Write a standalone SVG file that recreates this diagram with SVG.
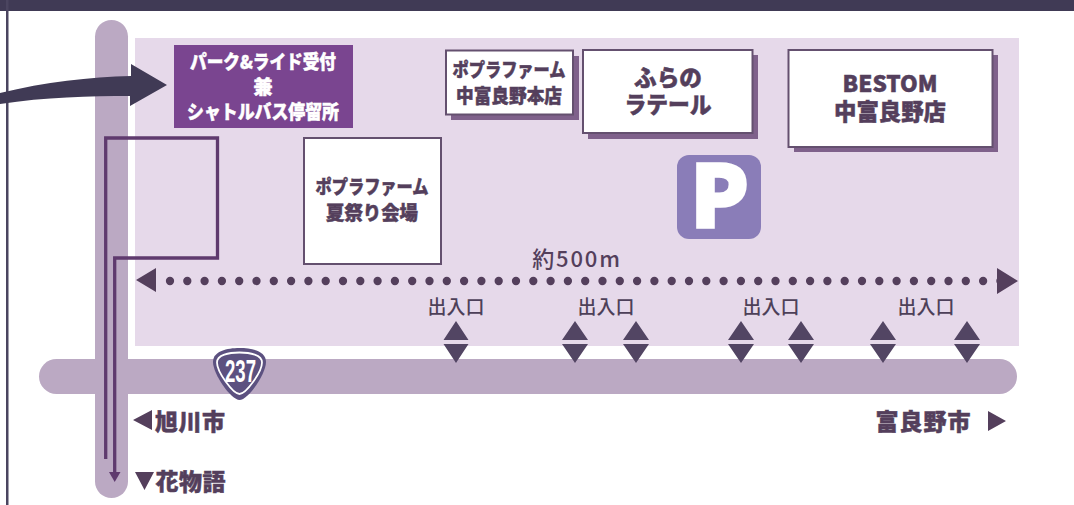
<svg xmlns="http://www.w3.org/2000/svg" width="1074" height="505" viewBox="0 0 1074 505">
<style>
text{font-family:"Noto Sans CJK JP","Liberation Sans",sans-serif;text-anchor:middle;fill:#543f5c;stroke:#543f5c;stroke-width:.5px;font-weight:900}
.box{fill:#fff;stroke:#64506f;stroke-width:2}
.shadow{fill:#7f618b}
.road{fill:#bba9c3}
.gate{fill:#524563}
.ent{font-size:19px;font-weight:500;fill:#4d4058;stroke-width:0}
.n1{font-size:19px;font-weight:800}
.n2{font-size:23px;font-weight:800}
.lab{font-size:23px}
.w{fill:#fff;stroke:#fff;font-size:19px}
</style>
<rect width="1074" height="505" fill="#fff"/>
<rect id="top-band" width="1074" height="11" fill="#403a55"/>
<rect id="left-border" x="6" y="0" width="2.500" height="505" fill="#4b4560"/>
<rect id="panel" x="135" y="38" width="884" height="308" fill="#e6d9ea"/>
<g id="roads">
<rect class="road" x="39" y="359" width="978" height="35" rx="17.500"/>
<rect class="road" x="95" y="20" width="33" height="478" rx="16.500"/>
</g>
<g id="connectors">
<path d="M0 93C45 82 90 77 131 76V64L167 85L130 106V96C90 96 45 97 0 104Z" fill="#403a55"/>
<path d="M105.700 459V138H217.500V258H114.700V473" fill="none" stroke="#5f3a6e" stroke-width="3.300"/>
<path d="M109 472H120.500L114.700 482Z" fill="#5f3a6e"/>
<path d="M170 281H1001" fill="none" stroke="#543f5c" stroke-width="8.300" stroke-linecap="round" stroke-dasharray="0 17.300"/>
<path d="M136 280L156 268V292Z M1018 281L997 268V294Z" fill="#543f5c"/>
</g>
<g id="park-ride"><rect x="174" y="45" width="179" height="83" fill="#7a4590"/>
<text class="w" x="263" y="69" textLength="146" lengthAdjust="spacingAndGlyphs">パーク&amp;ライド受付</text><text class="w" x="263" y="94">兼</text><text class="w" x="263" y="119" textLength="152" lengthAdjust="spacingAndGlyphs">シャトルバス停留所</text></g>
<g id="popura-honten"><rect class="shadow" x="451" y="56" width="128" height="64"/><rect class="box" x="446" y="50.500" width="127" height="64"/>
<text class="n1" x="509" y="77" textLength="113" lengthAdjust="spacingAndGlyphs">ポプラファーム</text><text class="n1" x="509" y="103" textLength="106" lengthAdjust="spacingAndGlyphs">中富良野本店</text></g>
<g id="furano-terrace"><rect class="shadow" x="588" y="55" width="170" height="84"/><rect class="box" x="583" y="50" width="169.500" height="83"/>
<text class="n2" x="668" y="86" textLength="68" lengthAdjust="spacingAndGlyphs">ふらの</text><text class="n2" x="668" y="113" textLength="87" lengthAdjust="spacingAndGlyphs">ラテール</text></g>
<g id="bestom"><rect class="shadow" x="794" y="55" width="204" height="97"/><rect class="box" x="788.500" y="50" width="204" height="97"/>
<text class="n2" x="890" y="92" textLength="95" lengthAdjust="spacingAndGlyphs">BESTOM</text><text class="n2" x="890" y="120" textLength="112" lengthAdjust="spacingAndGlyphs">中富良野店</text></g>
<g id="popura-festival"><rect class="box" x="304" y="138" width="137" height="126"/>
<text class="n1" x="372" y="194" textLength="113" lengthAdjust="spacingAndGlyphs">ポプラファーム</text><text class="n1" x="372" y="220" textLength="92" lengthAdjust="spacingAndGlyphs">夏祭り会場</text></g>
<g id="parking"><rect x="677" y="155" width="84" height="84" rx="12" fill="#8a7db8"/><text x="719.500" y="226.500" style="font-size:84px;fill:#fff;stroke:#fff;stroke-width:3.500px">P</text></g>
<text x="577" y="267" style="font-size:22px;font-weight:500;letter-spacing:1.800px;stroke-width:0">約500m</text>
<g id="entrances">
<text class="ent" x="456" y="314">出入口</text><text class="ent" x="606" y="314">出入口</text><text class="ent" x="771" y="314">出入口</text><text class="ent" x="926" y="314">出入口</text>
<path class="gate" d="M443.500 340L456 321L468.500 340Z M443.500 344H468.500L456 363Z M562 340L575 321L588 340Z M562 344H588L575 363Z M623 340L636 321L649 340Z M623 344H649L636 363Z M728 340L741 321L754 340Z M728 344H754L741 363Z M788 340L801 321L814 340Z M788 344H814L801 363Z M870 340L883 321L896 340Z M870 344H896L883 363Z M954 340L967 321L980 340Z M954 344H980L967 363Z"/>
</g>
<g id="route-237">
<path d="M239.500 348C252 348 266 351 266 362C266 374 248 400 239.500 400C231 400 213 374 213 362C213 351 227 348 239.500 348Z" fill="#5c5180"/>
<path d="M239.500 352.500C250 352.500 262 355 262 362.500C262 372 246 394 239.500 394C233 394 217 372 217 362.500C217 355 229 352.500 239.500 352.500Z" fill="none" stroke="#fff" stroke-width="1.800"/>
<text x="240.500" y="382" style="font-size:32px;font-weight:700;fill:#fff;stroke:none;font-family:'Liberation Sans',sans-serif" textLength="31" lengthAdjust="spacingAndGlyphs">237</text>
</g>
<g id="city-labels">
<path d="M133 420L152 410V430Z M135 472H154L144.500 490Z M988 411L1006 421L988 431Z" fill="#543f5c"/>
<text class="lab" x="190" y="430" textLength="70" lengthAdjust="spacing">旭川市</text>
<text class="lab" x="190.500" y="490" textLength="70" lengthAdjust="spacing">花物語</text>
<text class="lab" x="923" y="430" textLength="95" lengthAdjust="spacing">富良野市</text>
</g>
</svg>
